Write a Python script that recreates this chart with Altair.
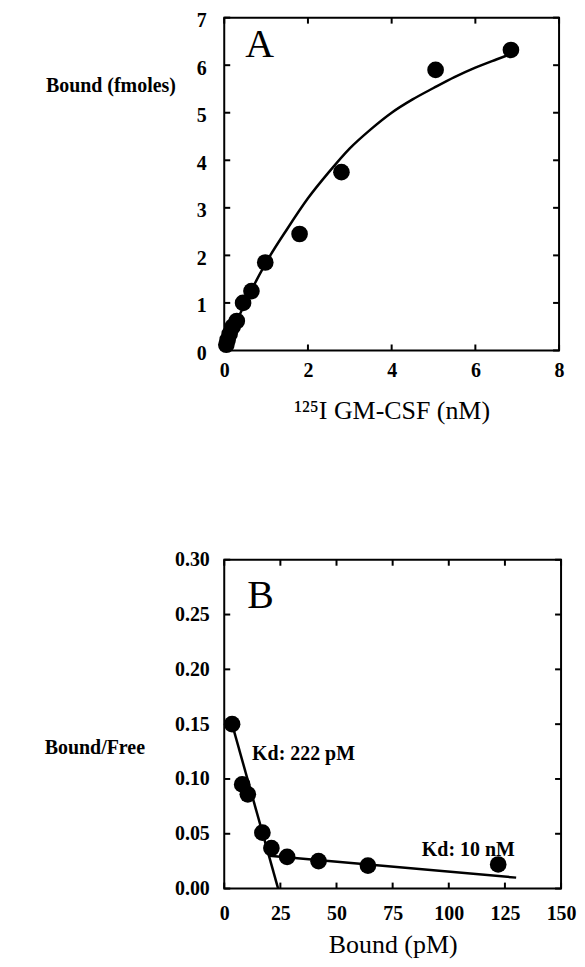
import altair as alt
import pandas as pd

# ---------------- Panel A data ----------------
a_conc = [0.05, 0.08, 0.13, 0.20, 0.30, 0.45, 0.65, 0.98, 1.80, 2.80, 5.05, 6.85]
a_bound = [0.12, 0.22, 0.35, 0.50, 0.62, 1.00, 1.25, 1.85, 2.45, 3.75, 5.90, 6.32]
a_fit_x = [0.05, 0.5, 1.0, 1.5, 2.0, 2.5, 3.0, 3.5, 4.0, 4.5, 5.0, 5.5, 6.0, 6.5, 6.9]
a_fit_y = [0.12, 1.00, 1.85, 2.55, 3.20, 3.75, 4.25, 4.65, 5.00, 5.28, 5.52, 5.75, 5.95, 6.12, 6.25]
a_xticks = [0, 2, 4, 6, 8]
a_yticks = [0, 1, 2, 3, 4, 5, 6, 7]

# ---------------- Panel B data ----------------
b_bound = [3.5, 8.0, 10.5, 17.0, 21.0, 28.0, 42.0, 64.0, 122.0]
b_ratio = [0.150, 0.095, 0.086, 0.051, 0.037, 0.029, 0.025, 0.021, 0.022]
b_high_x = [3.5, 24.0]
b_high_y = [0.150, 0.0]
b_low_x = [20.0, 130.0]
b_low_y = [0.030, 0.010]
b_xticks = [0, 25, 50, 75, 100, 125, 150]
b_yticks = [0.0, 0.05, 0.10, 0.15, 0.20, 0.25, 0.30]

label_texts = ["Kd: 222 pM", "Kd: 10 nM"]
label_x = [12.4, 88.0]
label_y = [0.123, 0.0355]

SERIF = "Liberation Serif"
AW, AH = 336, 334
BW, BH = 338, 330
TL = 6  # tick length


def panel(xs, ys, fit_layers, xticks, yticks, xdom, ydom, W, H, xtitle, ytitle,
          ytitle_x, ytitle_y, xfmt, yfmt, letter, letter_x, letter_y, texts=None,
          xlabpad=10, ylabpad=18, xtitlepad=17, ylaboffset=0):
    xscale = alt.Scale(domain=xdom, nice=False, zero=False)
    yscale = alt.Scale(domain=ydom, nice=False, zero=False)
    xaxis = alt.Axis(values=xticks, format=xfmt, title=xtitle, labelPadding=xlabpad,
                     titlePadding=xtitlepad, titleFontSize=26, titleFont=SERIF,
                     titleFontWeight="normal", labelFlush=False)
    yaxis = alt.Axis(values=yticks, format=yfmt, title=ytitle, labelPadding=ylabpad,
                     labelOffset=ylaboffset,
                     titleAngle=0, titleAlign="right", titleBaseline="middle",
                     titleX=ytitle_x, titleY=ytitle_y, titleFontSize=20,
                     titleFont=SERIF, titleFontWeight="bold", labelFlush=False)
    X = alt.X("x:Q", scale=xscale, axis=xaxis)
    Y = alt.Y("y:Q", scale=yscale, axis=yaxis)

    pts = pd.DataFrame({"x": xs, "y": ys})
    layers = []
    for fx, fy in fit_layers:
        d = pd.DataFrame({"x": fx, "y": fy})
        layers.append(alt.Chart(d).mark_line(color="black", strokeWidth=2.5,
                                             interpolate="monotone").encode(x=X, y=Y))
    layers.append(alt.Chart(pts).mark_circle(color="black", size=280, opacity=1).encode(x=X, y=Y))

    xt = pd.DataFrame({"x": xticks})
    yt = pd.DataFrame({"y": yticks})
    rule = dict(color="black", strokeWidth=2)
    layers.append(alt.Chart(xt).mark_rule(**rule).encode(x=X, y=alt.value(H), y2=alt.value(H - TL)))
    layers.append(alt.Chart(xt).mark_rule(**rule).encode(x=X, y=alt.value(0), y2=alt.value(TL)))
    layers.append(alt.Chart(yt).mark_rule(**rule).encode(y=Y, x=alt.value(0), x2=alt.value(TL)))
    layers.append(alt.Chart(yt).mark_rule(**rule).encode(y=Y, x=alt.value(W - TL), x2=alt.value(W)))

    let = pd.DataFrame({"x": [letter_x], "y": [letter_y], "t": [letter]})
    layers.append(alt.Chart(let).mark_text(font=SERIF, fontSize=40, align="left",
                                           baseline="middle", color="black")
                  .encode(x=X, y=Y, text="t:N"))
    if texts is not None:
        td = pd.DataFrame(texts)
        layers.append(alt.Chart(td).mark_text(font=SERIF, fontSize=20, fontWeight="bold",
                                              align="left", baseline="middle", color="black")
                      .encode(x=X, y=Y, text="t:N"))
    return alt.layer(*layers).properties(width=W, height=H)


chart_a = panel(a_conc, a_bound, [(a_fit_x, a_fit_y)], a_xticks, a_yticks, [0, 8], [0, 7],
                AW, AH, "\u00b9\u00b2\u2075I GM-CSF (nM)", "Bound (fmoles)", -49, 68,
                "d", "d", "A", 0.5, 6.42, xlabpad=10, ylabpad=18, xtitlepad=17,
                ylaboffset=3)

chart_b = panel(b_bound, b_ratio, [(b_high_x, b_high_y), (b_low_x, b_low_y)], b_xticks, b_yticks,
                [0, 150], [0, 0.30], BW, BH, "Bound (pM)", "Bound/Free", -80, 188,
                "d", ".2f", "B", 10.2, 0.267,
                texts={"x": label_x, "y": label_y, "t": label_texts},
                xlabpad=15, ylabpad=15, xtitlepad=8)

chart = alt.vconcat(chart_a, chart_b, spacing=125).properties(
    padding={"left": 35, "top": 0, "right": 0, "bottom": 2}
).configure_view(
    stroke="black", strokeWidth=2
).configure_axis(
    domain=False, ticks=False, grid=False, labelFont=SERIF, labelFontWeight="bold",
    labelFontSize=20, labelColor="black", titleColor="black"
)

chart.save("out.html", embed_options={"renderer": "svg", "actions": False})
